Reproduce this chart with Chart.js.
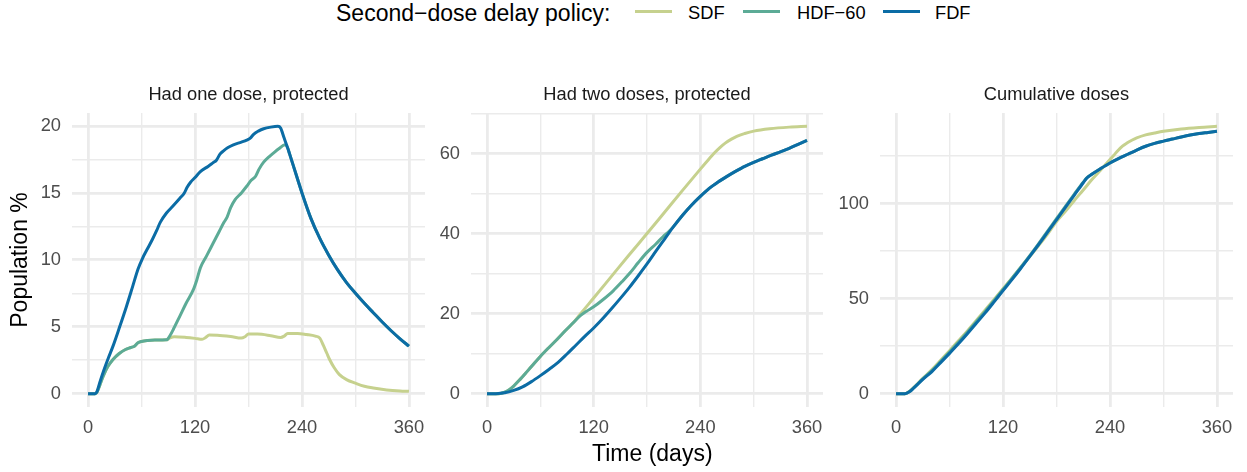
<!DOCTYPE html>
<html>
<head>
<meta charset="utf-8">
<script src="https://cdn.jsdelivr.net/npm/chart.js@4.4.1/dist/chart.umd.min.js"></script>
<style>
  html, body { margin:0; padding:0; background:#ffffff; }
  body { width:1247px; height:472px; position:relative; overflow:hidden;
         font-family:"Liberation Sans", Arial, Helvetica, sans-serif; }
  .abs { position:absolute; white-space:nowrap; }
  .lg { font-size:18.3px; line-height:26px; top:0; color:#000; }
  .key { position:absolute; top:10px; width:37px; height:3px; }
</style>
</head>
<body>
<div class="abs" style="left:336px;top:0;font-size:23px;line-height:26px;color:#000;">Second−dose delay policy:</div>
<div class="key" style="left:635px;background:#C6D18E;"></div>
<div class="abs lg" style="left:688px;">SDF</div>
<div class="key" style="left:743px;background:#5CAB96;"></div>
<div class="abs lg" style="left:797px;">HDF−60</div>
<div class="key" style="left:883px;background:#0B6CA5;"></div>
<div class="abs lg" style="left:935px;">FDF</div>

<div class="abs" style="left:0;top:84px;width:425px;height:363px;"><canvas id="c1" width="425" height="363"></canvas></div>
<div class="abs" style="left:420px;top:84px;width:403px;height:363px;"><canvas id="c2" width="403" height="363"></canvas></div>
<div class="abs" style="left:830px;top:84px;width:403px;height:363px;"><canvas id="c3" width="403" height="363"></canvas></div>

<div class="abs" style="left:592px;top:440px;font-size:23px;line-height:26px;color:#000;">Time (days)</div>

<script>
// ---------- labels ----------
const seriesNames = ['SDF', 'HDF−60', 'FDF'];
const panelTitles = ['Had one dose, protected', 'Had two doses, protected', 'Cumulative doses'];
const yAxisTitle = 'Population %';

// ---------- shared x ticks ----------
const xTickDays = [0, 60, 120, 180, 240, 300, 360];
const xLabelDays = [0, 120, 240, 360];

// ---------- panel 1: had one dose, protected ----------
const p1SdfDays = [0,8,10,13,17,22,28,35,42,48,52,56,60,67,75,88,92,97,110,120,128,132,136,145,160,172,176,180,190,205,216,220,224,235,245,255,260,264,268,271,276,282,290,300,310,320,335,350,360];
const p1SdfVals = [0,0,0.1,0.6,1.3,2.0,2.55,3.0,3.3,3.45,3.55,3.8,3.9,3.97,4.0,4.02,4.17,4.25,4.2,4.13,4.06,4.2,4.38,4.37,4.27,4.15,4.25,4.45,4.45,4.33,4.2,4.3,4.5,4.5,4.42,4.3,4.15,3.6,3.0,2.55,1.95,1.42,1.05,0.78,0.55,0.42,0.28,0.2,0.17];

const p1HdfDays = [0,8,10,13,17,22,28,35,42,48,52,56,60,67,75,88,92,96,103,110,118,122,126,133,140,147,152,156,160,165,172,178,183,188,192,197,203,208,214,221,224,226,230,240,250,260,270,280,290,300,310,320,330,340,350,360];
const p1HdfVals = [0,0,0.1,0.6,1.3,2.0,2.55,3.0,3.3,3.45,3.55,3.8,3.9,3.97,4.0,4.02,4.35,4.85,5.8,6.76,7.75,8.5,9.4,10.3,11.2,12.1,12.75,13.2,13.9,14.5,15.0,15.5,15.95,16.25,16.8,17.3,17.7,17.98,18.3,18.6,18.35,17.94,17.1,15.0,13.1,11.6,10.35,9.25,8.3,7.5,6.75,6.05,5.35,4.7,4.1,3.55];

const p1FdfDays = [0,8,10,13,18,23,28,35,43,50,56,61,66,72,77,81,88,95,103,108,111,115,120,126,135,140,144,148,152,157,163,172,178,182,186,191,197,205,213,216,220,224,226,230,240,250,260,270,280,290,300,310,320,330,340,350,360];
const p1FdfVals = [0,0,0.15,0.8,1.8,2.7,3.55,4.9,6.5,8.0,9.3,10.1,10.75,11.5,12.2,12.8,13.5,14.0,14.6,15.0,15.4,15.8,16.15,16.6,17.0,17.25,17.45,17.9,18.15,18.4,18.6,18.8,18.95,19.1,19.4,19.62,19.8,19.92,19.98,19.85,19.1,18.35,17.94,17.1,15.0,13.1,11.6,10.35,9.25,8.3,7.5,6.75,6.05,5.35,4.7,4.1,3.55];

const p1YTicks = [0,2.5,5,7.5,10,12.5,15,17.5,20];
const p1YLabels = [0,5,10,15,20];

// ---------- panel 2: had two doses, protected ----------
const p2SdfDays = [0,10,15,20,25,30,37,45,52,60,70,79,88,97,105,120,140,160,180,200,220,240,250,256,262,268,275,281,290,300,318,340,360];
const p2SdfVals = [0,0,0.05,0.4,1.0,1.9,3.5,5.5,7.3,9.3,11.6,13.6,15.7,17.7,19.9,23.9,29.3,34.7,40.0,45.4,50.8,56.1,58.7,60.2,61.5,62.6,63.6,64.3,65.0,65.6,66.2,66.6,66.8];

const p2HdfDays = [0,10,15,20,25,30,37,45,52,60,70,79,88,97,105,112,120,130,142,152,161,170,180,190,198,204,210,220,230,240,250,260,270,280,290,300,310,320,330,340,350,360];
const p2HdfVals = [0,0,0.05,0.4,1.0,1.9,3.5,5.5,7.3,9.3,11.6,13.6,15.7,17.7,19.5,20.6,21.7,23.4,25.7,28.0,30.2,32.7,35.3,37.4,39.2,40.4,41.8,44.6,47.1,49.3,51.3,52.9,54.3,55.6,56.8,57.8,58.7,59.6,60.4,61.3,62.3,63.3];

const p2FdfDays = [0,10,20,30,40,50,60,70,80,90,100,110,120,130,140,150,160,170,180,190,200,210,220,230,240,250,260,270,280,290,300,310,320,330,340,350,360];
const p2FdfVals = [0,0,0.2,0.8,1.7,3.0,4.5,6.1,7.8,9.9,12.1,14.3,16.4,18.7,21.2,23.8,26.5,29.4,32.4,35.6,38.7,41.8,44.6,47.1,49.3,51.3,52.9,54.3,55.6,56.8,57.8,58.7,59.6,60.4,61.3,62.3,63.3];

const p2YTicks = [0,10,20,30,40,50,60,70];
const p2YLabels = [0,20,40,60];

// ---------- panel 3: cumulative doses ----------
const p3SdfDays = [0,10,15,20,30,40,50,60,70,80,90,100,110,120,130,140,150,160,170,180,190,200,210,220,230,237,244,249,254,259,265,270,280,290,300,320,340,360];
const p3SdfVals = [0,0,1.2,3.3,8,12.5,17.5,22.6,27.8,33,38.5,44,49.6,55.2,60.8,66.5,72.2,78,84,90.6,96,101.7,107.2,112.8,118,121.6,125.3,128,130.3,131.9,133.5,134.6,136.2,137.2,138.1,139.3,140.1,140.7];

const p3HdfDays = [0,10,15,20,30,40,50,60,70,80,90,100,110,120,130,140,150,160,170,180,190,200,210,214,220,230,240,250,260,270,280,290,300,310,320,330,340,350,360];
const p3HdfVals = [0,0,1.1,3.2,7.8,12,16.9,21.9,27,32.3,37.8,43.3,49,54.8,60.6,66.5,72.6,79,85.6,92.1,98.6,105,111.3,113.6,115.6,118.6,121.4,123.8,126,128.2,130.2,131.7,132.9,134,135.1,136.1,136.9,137.5,138.1];

const p3FdfDays = [0,10,15,20,30,40,50,60,70,80,90,100,110,120,130,140,150,160,170,180,190,200,210,214,220,230,240,250,260,270,280,290,300,310,320,330,340,350,360];
const p3FdfVals = [0,0,1,3,7.5,11.5,16.3,21.2,26.2,31.5,37,42.5,48.3,54.2,60,66,72.2,78.5,85,91.5,98,104.5,111,113.5,115.6,118.6,121.4,123.8,126,128.2,130.2,131.7,132.9,134,135.1,136.1,136.9,137.5,138.1];

const p3YTicks = [0,25,50,75,100,125];
const p3YLabels = [0,50,100];

// ---------- styling ----------
const COLORS = { SDF: '#C6D18E', HDF: '#5CAB96', FDF: '#0B6CA5' };
const FONT = '"Liberation Sans", Arial, Helvetica, sans-serif';
const GRID = '#EBEBEB';

function pts(days, vals) { return days.map((d, i) => ({ x: d, y: vals[i] })); }

function lineDs(label, color, days, vals) {
  return {
    label, data: pts(days, vals), borderColor: color, backgroundColor: color,
    borderWidth: 3, pointRadius: 0, pointHoverRadius: 0, fill: false,
    cubicInterpolationMode: 'monotone', borderJoinStyle: 'round', borderCapStyle: 'butt'
  };
}

function makeChart(id, title, yW, yMin, yMax, yTicks, yLabels, ds, yTitle) {
  const cfg = {
    type: 'line',
    data: { datasets: ds },
    options: {
      responsive: false, animation: false, events: [],
      layout: { padding: 0, autoPadding: false },
      plugins: {
        legend: { display: false }, tooltip: { enabled: false },
        title: { display: true, text: title, color: '#1A1A1A', fullSize: false,
                 font: { family: FONT, size: 18.3, weight: 'normal', lineHeight: 1.2 },
                 padding: { top: 0, bottom: 7 } }
      },
      scales: {
        x: {
          type: 'linear', min: -18, max: 378,
          afterBuildTicks: ax => { ax.ticks = xTickDays.map(v => ({ value: v })); },
          afterFit: ax => { ax.height = 40; ax.paddingLeft = 0; ax.paddingRight = 0; },
          border: { display: false },
          grid: { color: GRID, drawTicks: false,
                  lineWidth: c => (c.tick && xLabelDays.includes(c.tick.value)) ? 2.8 : 1.4 },
          ticks: { padding: 10, color: '#4D4D4D', maxRotation: 0, autoSkip: false,
                   font: { family: FONT, size: 18.3 },
                   callback: v => xLabelDays.includes(v) ? String(v) : '' }
        },
        y: {
          type: 'linear', min: yMin, max: yMax,
          afterBuildTicks: ax => { ax.ticks = yTicks.map(v => ({ value: v })); },
          afterFit: ax => { ax.width = yW; ax.paddingTop = 0; ax.paddingBottom = 0; },
          border: { display: false },
          grid: { color: GRID, drawTicks: false,
                  lineWidth: c => (c.tick && yLabels.includes(c.tick.value)) ? 2.8 : 1.4 },
          ticks: { padding: 11, color: '#4D4D4D', autoSkip: false,
                   font: { family: FONT, size: 18.3 },
                   callback: v => yLabels.includes(v) ? String(v) : '' },
          title: yTitle ? { display: true, text: yTitle, color: '#000000',
                   font: { family: FONT, size: 23, weight: 'normal', lineHeight: 1.2 },
                   padding: { top: 7, bottom: 0 } } : { display: false }
        }
      }
    }
  };
  return new Chart(document.getElementById(id), cfg);
}

// draw order: first dataset on top -> FDF, HDF, SDF
makeChart('c1', panelTitles[0], 72, -0.999, 20.979, p1YTicks, p1YLabels, [
  lineDs(seriesNames[2], COLORS.FDF, p1FdfDays, p1FdfVals),
  lineDs(seriesNames[1], COLORS.HDF, p1HdfDays, p1HdfVals),
  lineDs(seriesNames[0], COLORS.SDF, p1SdfDays, p1SdfVals)
], yAxisTitle);

makeChart('c2', panelTitles[1], 51, -3.34, 70.14, p2YTicks, p2YLabels, [
  lineDs(seriesNames[2], COLORS.FDF, p2FdfDays, p2FdfVals),
  lineDs(seriesNames[1], COLORS.HDF, p2HdfDays, p2HdfVals),
  lineDs(seriesNames[0], COLORS.SDF, p2SdfDays, p2SdfVals)
], null);

makeChart('c3', panelTitles[2], 50, -7.035, 147.735, p3YTicks, p3YLabels, [
  lineDs(seriesNames[2], COLORS.FDF, p3FdfDays, p3FdfVals),
  lineDs(seriesNames[1], COLORS.HDF, p3HdfDays, p3HdfVals),
  lineDs(seriesNames[0], COLORS.SDF, p3SdfDays, p3SdfVals)
], null);
</script>
</body>
</html>
